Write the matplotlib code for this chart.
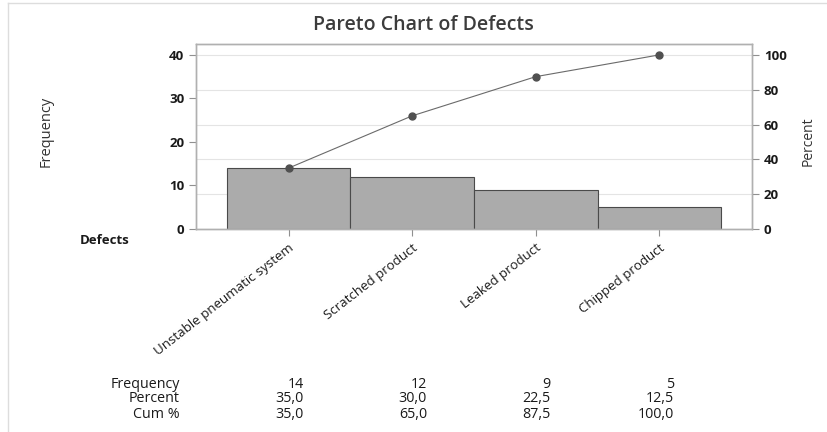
import matplotlib
matplotlib.use("Agg")
import matplotlib.pyplot as plt
from matplotlib.lines import Line2D
import matplotlib.transforms as mtransforms

categories = ["Unstable pneumatic system", "Scratched product", "Leaked product", "Chipped product"]
frequency = [14, 12, 9, 5]
percent = [35.0, 30.0, 22.5, 12.5]
cum_percent = [35.0, 65.0, 87.5, 100.0]
left_ticks = [0, 10, 20, 30, 40]
right_ticks = [0, 20, 40, 60, 80, 100]

plt.rcParams['font.family'] = ['Open Sans', 'DejaVu Sans']

fig = plt.figure(figsize=(8.27, 4.32), dpi=100)
ax = fig.add_axes([196/827, 1-229/432, (752-196)/827, (229-44)/432])
ax2 = ax.twinx()

x = list(range(len(categories)))
ax.bar(x, frequency, width=1.0, color="#ababab", edgecolor="#4a4a4a", linewidth=0.8, zorder=2)
ax.set_xlim(-0.75, 3.75)
ax.set_ylim(0, 42.5)
ax2.set_ylim(0, 106.25)
ax.set_yticks(left_ticks, labels=[str(t) for t in left_ticks], fontweight="bold", fontsize=9.5)
ax2.set_yticks(right_ticks, labels=[str(t) for t in right_ticks], fontweight="bold", fontsize=9.5)

ax2.plot(x, cum_percent, color="#6a6a6a", linewidth=0.8, marker="o", markersize=5,
         markerfacecolor="#505050", markeredgecolor="#505050", zorder=3)

ax.set_axisbelow(True)
for t in right_ticks[1:]:
    ax.axhline(t * 42.5 / 106.25, color="#e4e4e4", linewidth=0.8, zorder=0)

for a in (ax, ax2):
    for s in a.spines.values():
        s.set_color("#b0b0b0")
        s.set_linewidth(1.0)
    a.tick_params(colors="#909090", labelcolor="#1a1a1a", length=5, width=0.8)

ax.set_xticks(x)
ax.set_xticklabels(categories, rotation=38, ha="right", va="top", rotation_mode="anchor",
                   fontsize=9.5, color="#1a1a1a")
ax.tick_params(axis="x", length=5, pad=4)

fig.text(423/827, 1-25/432, "Pareto Chart of Defects", ha="center", va="center",
         fontsize=14, fontweight=600, color="#3c3c3c")
fig.text(46/827, 1-131/432, "Frequency", rotation=90, ha="center", va="center",
         fontsize=10.5, color="#333333")
fig.text(808/827, 1-141/432, "Percent", rotation=90, ha="center", va="center",
         fontsize=10, color="#333333")
fig.text(80/827, 1-240/432, "Defects", ha="left", va="center", fontsize=9.5,
         fontweight="bold", color="#1a1a1a")

trans = mtransforms.blended_transform_factory(ax.transData, fig.transFigure)
rows = [("Frequency", [str(v) for v in frequency]),
        ("Percent", [f"{v:.1f}".replace(".", ",") for v in percent]),
        ("Cum %", [f"{v:.1f}".replace(".", ",") for v in cum_percent])]
row_y = [384, 399, 414]
for (name, vals), yy in zip(rows, row_y):
    fig.text(180/827, 1-yy/432, name, ha="right", va="center", fontsize=10.3, color="#1a1a1a")
    for xi, v in zip(x, vals):
        ax.text(xi + 0.12, 1-yy/432, v, transform=trans, ha="right", va="center",
                fontsize=10.3, color="#1a1a1a", clip_on=False)

fig.add_artist(Line2D([8/827, 8/827], [0, 1-3/432], transform=fig.transFigure, color="#dddddd", lw=1))
fig.add_artist(Line2D([8/827, 1], [1-3/432, 1-3/432], transform=fig.transFigure, color="#dddddd", lw=1))

fig.savefig("out.png", dpi=100)
